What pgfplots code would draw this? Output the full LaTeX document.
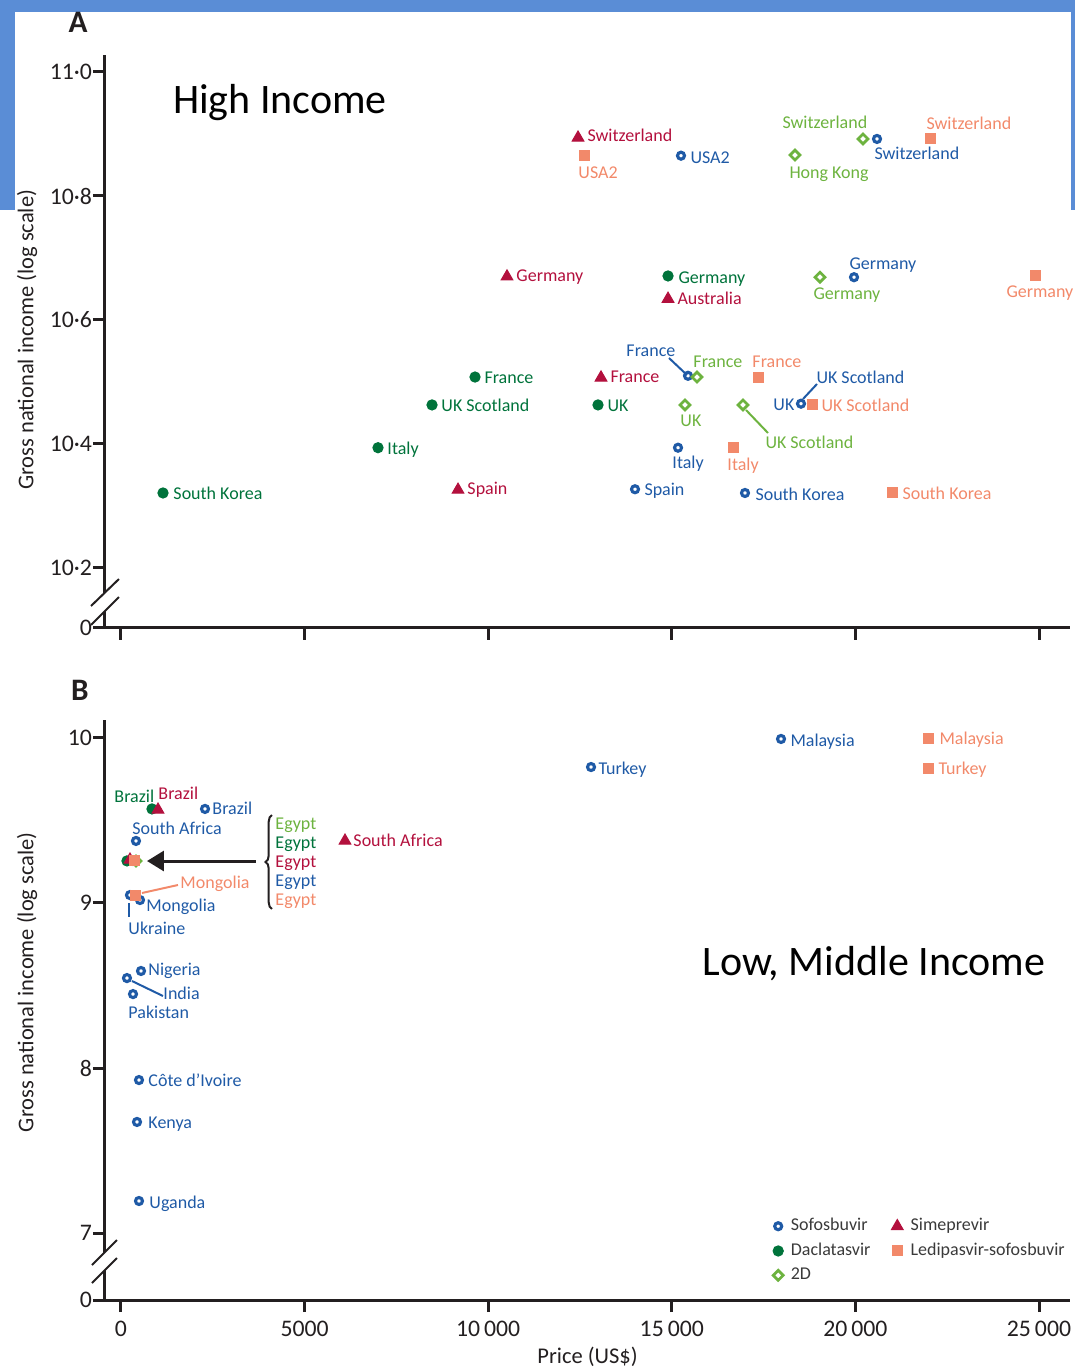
\documentclass[border=0pt]{standalone}
\usepackage{pgfplots}
\pgfplotsset{compat=1.18}
\usepackage{fontspec}
\setmainfont{Carlito}
\usetikzlibrary{arrows.meta,decorations.pathreplacing}

\definecolor{cSofo}{HTML}{1F5AA6}
\definecolor{cDacla}{HTML}{00733B}
\definecolor{cSime}{HTML}{B3103D}
\definecolor{cTwoD}{HTML}{6DB33F}
\definecolor{cLedi}{HTML}{F2896A}
\definecolor{cAxis}{HTML}{231F20}
\definecolor{cFrame}{HTML}{5A8DD6}
\definecolor{cLeg}{HTML}{3A3A3A}

\tikzset{lab/.style={anchor=west, inner sep=0pt, yshift=0.8pt, font=\fontsize{7.2}{8}\selectfont, text height=0.68em, text depth=0pt}}

% label helpers (positions given in reference pixels)
\newcommand\LA[4]{\node[lab,text=#1] at (rel axis cs:{(#2-105)/965},{(628-#3)/573}) {#4};}
\newcommand\LB[4]{\node[lab,text=#1] at (rel axis cs:{(#2-105)/965},{(1300-#3)/580}) {#4};}
\newcommand\SA[5]{\draw[#1,line width=0.8pt] (rel axis cs:{(#2-105)/965},{(628-#3)/573}) -- (rel axis cs:{(#4-105)/965},{(628-#5)/573});}
\newcommand\SB[5]{\draw[#1,line width=0.8pt] (rel axis cs:{(#2-105)/965},{(1300-#3)/580}) -- (rel axis cs:{(#4-105)/965},{(1300-#5)/580});}

\pgfplotsset{
  mysofo/.style={only marks, mark=o, mark size=1.4pt, line width=1.25pt, cSofo},
  mydacla/.style={only marks, mark=*, mark size=2.05pt, cDacla},
  mytwod/.style={only marks, mark=square, mark size=1.4pt, line width=1.1pt, cTwoD, mark options={rotate=45}},
  mysime/.style={only marks, mark=triangle*, mark size=2.7pt, cSime},
  myledi/.style={only marks, mark=square*, mark size=2pt, cLedi},
  base/.style={
    scale only axis, width=386pt, clip=false,
    xmin=-436, xmax=25844,
    axis lines=left,
    axis line style={-, line width=1.2pt, cAxis},
    tick align=outside, major tick length=4.8pt,
    tick style={line width=1.2pt, cAxis},
    xtick={0,5000,10000,15000,20000,25000},
    scaled x ticks=false, scaled y ticks=false,
    ticklabel style={font=\fontsize{9.5}{10}\selectfont, text=cAxis},
    yticklabel style={inner sep=0.2pt},
    label style={font=\fontsize{9}{10}\selectfont, text=cAxis, inner sep=0pt},
  },
}

\begin{document}
\begin{tikzpicture}
% ---------------- Panel A ----------------
\begin{axis}[base, height=229.2pt,
  ymin=10.10323, ymax=11.0274,
  ytick={10.10323,10.2,10.4,10.6,10.8,11.0},
  yticklabels={0,10·2,10·4,10·6,10·8,11·0},
  xticklabels={},
  ylabel={Gross national income (log scale)},
  ylabel style={at={(rel axis cs:-0.0808,0.503)}, anchor=center},
]
\addplot[mysofo] coordinates {(15250,10.865) (20588,10.892) (19962,10.669) (15441,10.510) (18518,10.465) (15169,10.394) (13998,10.327) (16993,10.321)};
\addplot[mydacla] coordinates {(14897,10.671) (9641,10.508) (8470,10.463) (12990,10.463) (6999,10.394) (1144,10.321)};
\addplot[mytwod] coordinates {(20207,10.892) (18355,10.866) (19036,10.669) (15686,10.508) (15359,10.463) (16939,10.463)};
\addplot[mysime] coordinates {(12446,10.894) (10512,10.670) (14897,10.634) (13072,10.507) (9178,10.326)};
\addplot[myledi] coordinates {(12609,10.865) (22031,10.892) (24891,10.671) (17347,10.508) (18818,10.463) (16667,10.394) (20997,10.321)};

% frame decoration
\fill[cFrame] (rel axis cs:{(0-105)/965},{(628-0)/573}) rectangle (rel axis cs:{(1075-105)/965},{(628-12)/573});
\fill[cFrame] (rel axis cs:{(0-105)/965},{(628-0)/573}) rectangle (rel axis cs:{(15-105)/965},{(628-210)/573});
\fill[cFrame] (rel axis cs:{(1071-105)/965},{(628-0)/573}) rectangle (rel axis cs:{(1075-105)/965},{(628-210)/573});

\node[font=\bfseries\fontsize{12.5}{13}\selectfont, text=cAxis] at (rel axis cs:{(78-105)/965},{(628-22)/573}) {A};
\node[font=\fontsize{16.8}{18}\selectfont, text=black] at (rel axis cs:{(280-105)/965},{(628-103)/573}) {High Income};

% axis break
\fill[white] (rel axis cs:{(91-105)/965},{(628-606)/573}) -- (rel axis cs:{(119-105)/965},{(628-579)/573}) -- (rel axis cs:{(119-105)/965},{(628-597)/573}) -- (rel axis cs:{(91-105)/965},{(628-625)/573}) -- cycle;
\SA{cAxis}{91}{606}{119}{579}
\SA{cAxis}{91}{625}{119}{597}

% Sofosbuvir labels
\LA{cSofo}{690}{157}{USA2}
\LA{cSofo}{874}{153}{Switzerland}
\LA{cSofo}{849}{263}{Germany}
\LA{cSofo}{626}{350}{France}
\LA{cSofo}{816}{377}{UK Scotland}
\LA{cSofo}{773}{404}{UK}
\LA{cSofo}{672}{462}{Italy}
\LA{cSofo}{644}{489}{Spain}
\LA{cSofo}{755}{494}{South Korea}
\SA{cSofo}{669}{358}{687}{375}
\SA{cSofo}{817}{384}{803}{399}
% Daclatasvir labels
\LA{cDacla}{678}{277}{Germany}
\LA{cDacla}{484}{377}{France}
\LA{cDacla}{441}{405}{UK Scotland}
\LA{cDacla}{607}{405}{UK}
\LA{cDacla}{387}{448}{Italy}
\LA{cDacla}{173}{493}{South Korea}
% Simeprevir labels
\LA{cSime}{587}{135}{Switzerland}
\LA{cSime}{516}{275}{Germany}
\LA{cSime}{677}{298}{Australia}
\LA{cSime}{610}{376}{France}
\LA{cSime}{467}{488}{Spain}
% 2D labels
\LA{cTwoD}{782}{122}{Switzerland}
\LA{cTwoD}{789}{172}{Hong Kong}
\LA{cTwoD}{813}{293}{Germany}
\LA{cTwoD}{693}{361}{France}
\LA{cTwoD}{680}{420}{UK}
\LA{cTwoD}{765}{442}{UK Scotland}
\SA{cTwoD}{746}{410}{768}{433}
% Ledipasvir-sofosbuvir labels
\LA{cLedi}{926}{123}{Switzerland}
\LA{cLedi}{578}{172}{USA2}
\LA{cLedi}{1006}{291}{Germany}
\LA{cLedi}{752}{361}{France}
\LA{cLedi}{821}{405}{UK Scotland}
\LA{cLedi}{727}{464}{Italy}
\LA{cLedi}{902}{493}{South Korea}
\end{axis}

% ---------------- Panel B ----------------
\begin{axis}[base, height=232pt, at={(0pt,-268.8pt)},
  ymin=6.59394, ymax=10.109,
  ytick={6.59394,7,8,9,10},
  yticklabels={0,7,8,9,10},
  xticklabels={0,5000,10\,000,15\,000,20\,000,25\,000},
  xlabel={Price (US\$)},
  xlabel style={at={(rel axis cs:0.5,0)}, anchor=center, yshift=-22.8pt},
  ylabel={Gross national income (log scale)},
  ylabel style={at={(rel axis cs:-0.0808,0.548)}, anchor=center},
  legend style={at={(0.684,0.155)}, anchor=north west, draw=none, fill=none,
    font=\fontsize{7.2}{8}\selectfont, text=cLeg, row sep=1.4pt, nodes={inner sep=1pt},
    /tikz/every odd column/.append style={column sep=2pt},
    /tikz/every even column/.append style={column sep=7.4pt}},
  legend cell align=left, transpose legend, legend columns=3,
  legend image code/.code={\draw[mark repeat=2,mark phase=2,#1] plot coordinates {(0cm,0cm) (0.14cm,0cm) (0.28cm,0cm)};},
]
\addplot[mysofo] coordinates {(17974,9.994) (12800,9.824) (2288,9.570) (408,9.376) (327,9.255) (245,9.048) (517,9.018) (545,8.588) (163,8.545) (327,8.448) (490,7.927) (436,7.673) (490,7.194)};
\addlegendentry{Sofosbuvir}
\addplot[mydacla] coordinates {(844,9.570) (163,9.255)};
\addlegendentry{Daclatasvir}
\addplot[mytwod] coordinates {(408,9.255)};
\addlegendentry{2D}
\addplot[mysime] coordinates {(1008,9.565) (6100,9.377) (245,9.262)};
\addlegendentry{Simeprevir}
\addplot[myledi] coordinates {(21977,9.994) (21977,9.818) (408,9.048) (381,9.255)};
\addlegendentry{Ledipasvir-sofosbuvir}

\node[font=\bfseries\fontsize{12.5}{13}\selectfont, text=cAxis] at (rel axis cs:{(80-105)/965},{(1300-690)/580}) {B};
\node[font=\fontsize{16.8}{18}\selectfont, text=black] at (rel axis cs:{(874-105)/965},{(1300-964)/580}) {Low, Middle Income};

% axis break
\fill[white] (rel axis cs:{(92-105)/965},{(1300-1265)/580}) -- (rel axis cs:{(117-105)/965},{(1300-1240)/580}) -- (rel axis cs:{(117-105)/965},{(1300-1258)/580}) -- (rel axis cs:{(92-105)/965},{(1300-1283)/580}) -- cycle;
\SB{cAxis}{92}{1265}{117}{1240}
\SB{cAxis}{92}{1283}{117}{1258}

% arrow and brace
\draw[cAxis, line width=1.2pt, -{Triangle[length=6.8pt,width=8pt]}] (rel axis cs:{(256-105)/965},{(1300-861)/580}) -- (rel axis cs:{(147-105)/965},{(1300-861)/580});
\draw[cAxis, line width=0.8pt, decorate, decoration={brace, amplitude=2.6pt}] (rel axis cs:{(272-105)/965},{(1300-909)/580}) -- (rel axis cs:{(272-105)/965},{(1300-815)/580});

% Sofosbuvir labels
\LB{cSofo}{790}{740}{Malaysia}
\LB{cSofo}{598}{768}{Turkey}
\LB{cSofo}{212}{808}{Brazil}
\LB{cSofo}{132}{828}{South Africa}
\LB{cSofo}{275}{880}{Egypt}
\LB{cSofo}{146}{905}{Mongolia}
\LB{cSofo}{128}{928}{Ukraine}
\LB{cSofo}{148}{969}{Nigeria}
\LB{cSofo}{163}{993}{India}
\LB{cSofo}{128}{1012}{Pakistan}
\LB{cSofo}{148}{1080}{Côte d’Ivoire}
\LB{cSofo}{148}{1122}{Kenya}
\LB{cSofo}{149}{1202}{Uganda}
\SB{cSofo}{129}{903}{129}{917}
\SB{cSofo}{132}{981}{163}{996}
% Daclatasvir
\LB{cDacla}{114}{796}{Brazil}
\LB{cDacla}{275}{842}{Egypt}
% Simeprevir
\LB{cSime}{158}{793}{Brazil}
\LB{cSime}{275}{861}{Egypt}
\LB{cSime}{353}{840}{South Africa}
% 2D
\LB{cTwoD}{275}{823}{Egypt}
% Ledipasvir-sofosbuvir
\LB{cLedi}{939}{738}{Malaysia}
\LB{cLedi}{938}{768}{Turkey}
\LB{cLedi}{180}{882}{Mongolia}
\LB{cLedi}{275}{899}{Egypt}
\SB{cLedi}{178}{885}{142}{893}

% bounding box bottom
\path (rel axis cs:{(0-105)/965},{(1300-1368)/580}) rectangle (rel axis cs:{(1075-105)/965},{(1300-1368)/580});
\end{axis}
\end{tikzpicture}
\end{document}
